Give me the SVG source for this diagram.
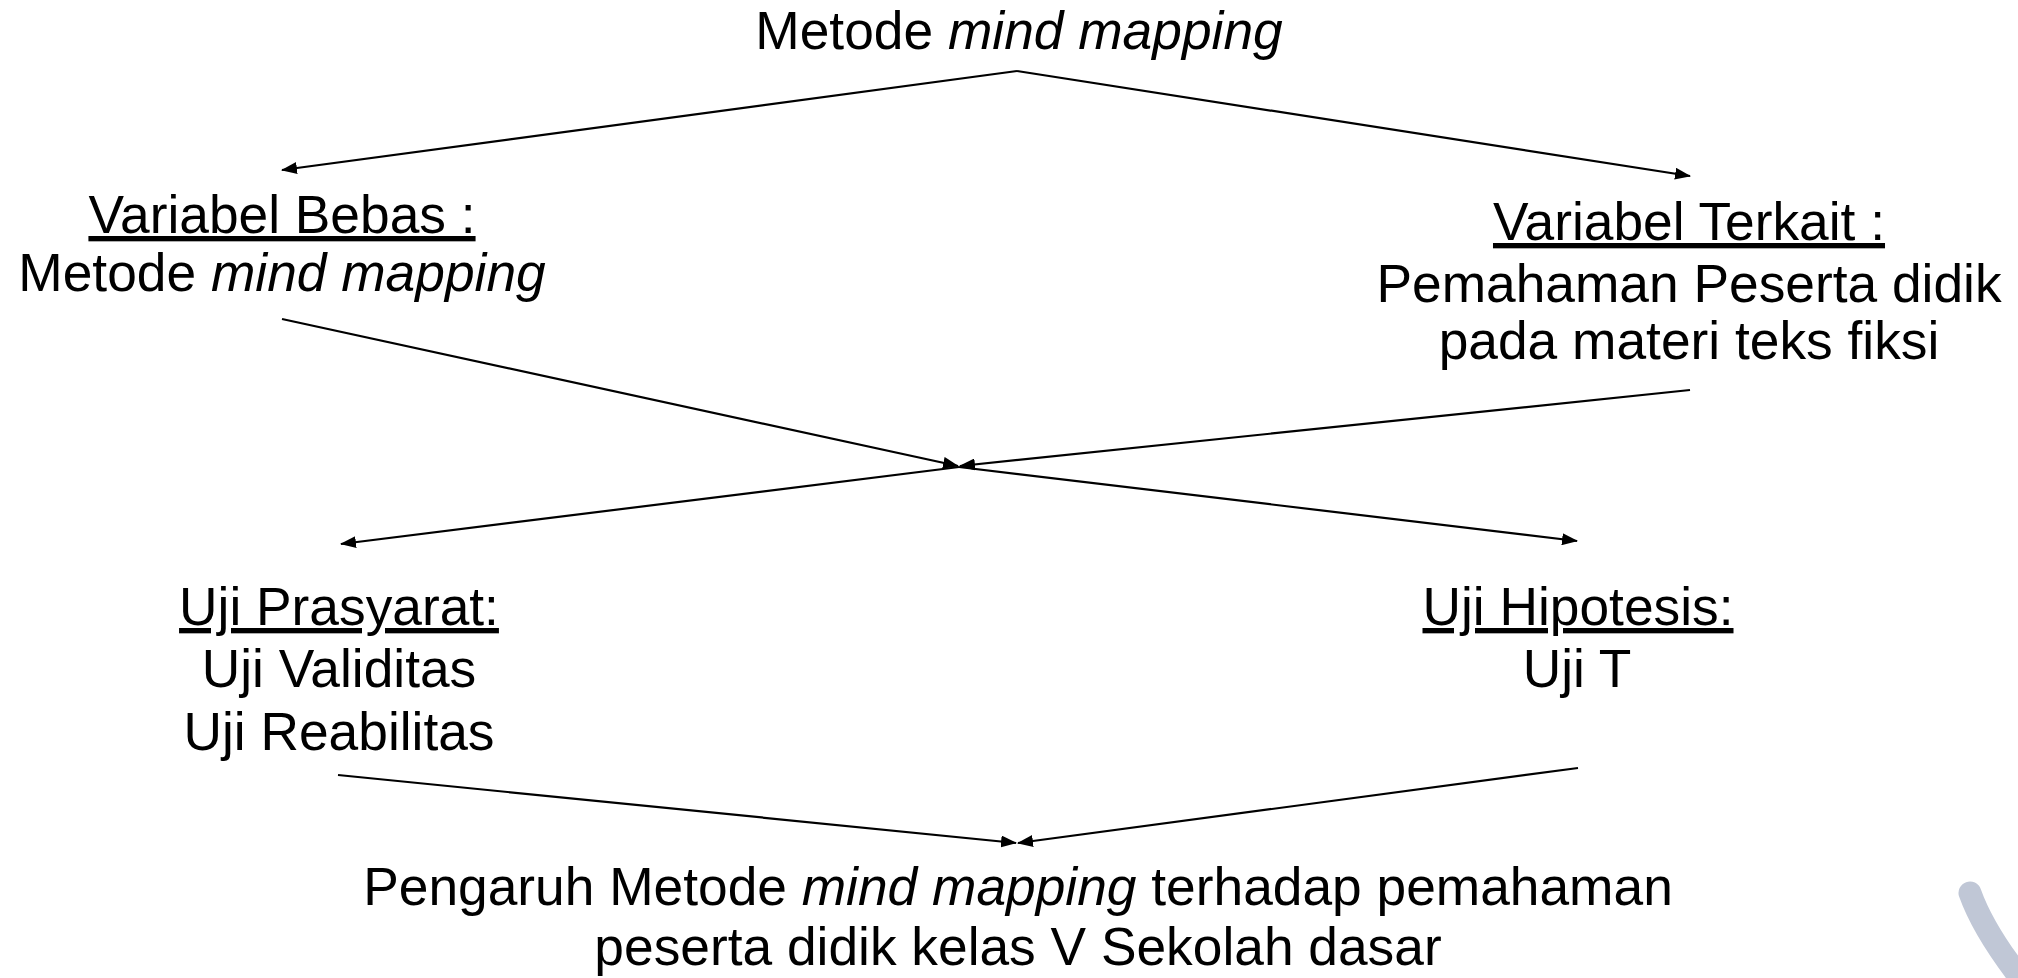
<svg xmlns="http://www.w3.org/2000/svg" width="2018" height="978" viewBox="0 0 2018 978">
<style>
  text { font-family: "Liberation Sans", Arial, sans-serif; font-size: 53.3px; fill: #000; text-anchor: middle; }
  .it { font-style: italic; }
  .ul { text-decoration: underline; }
  .conn line { stroke: #000; stroke-width: 2.2; fill: none; }
</style>
<defs>
  <marker id="arr" markerUnits="userSpaceOnUse" markerWidth="16" markerHeight="12" viewBox="0 0 16 12" refX="15" refY="6" orient="auto">
    <path d="M0,0 L16,6 L0,12 Z" fill="#000"/>
  </marker>
</defs>
<rect width="2018" height="978" fill="#fff"/>

<g id="node-top">
  <text x="1019" y="49">Metode <tspan class="it">mind mapping</tspan></text>
</g>

<g id="node-bebas">
  <text x="282" y="233" class="ul">Variabel Bebas :</text>
  <text x="282" y="291">Metode <tspan class="it">mind mapping</tspan></text>
</g>

<g id="node-terkait">
  <text x="1689" y="240" class="ul">Variabel Terkait :</text>
  <text x="1689" y="302">Pemahaman Peserta didik</text>
  <text x="1689" y="359">pada materi teks fiksi</text>
</g>

<g id="node-prasyarat">
  <text x="339" y="625" class="ul">Uji Prasyarat:</text>
  <text x="339" y="687">Uji Validitas</text>
  <text x="339" y="750">Uji Reabilitas</text>
</g>

<g id="node-hipotesis">
  <text x="1578" y="625" class="ul">Uji Hipotesis:</text>
  <text x="1577" y="687">Uji T</text>
</g>

<g id="node-result">
  <text x="1018" y="905">Pengaruh Metode <tspan class="it">mind mapping</tspan> terhadap pemahaman</text>
  <text x="1018" y="965">peserta didik kelas V Sekolah dasar</text>
</g>

<g id="connectors" class="conn">
  <line x1="1017" y1="71" x2="282" y2="170" marker-end="url(#arr)"/>
  <line x1="1017" y1="71" x2="1690" y2="176" marker-end="url(#arr)"/>
  <line x1="282" y1="319" x2="958" y2="466" marker-end="url(#arr)"/>
  <line x1="1690" y1="390" x2="960" y2="466" marker-end="url(#arr)"/>
  <line x1="959" y1="467" x2="341" y2="544" marker-end="url(#arr)"/>
  <line x1="959" y1="467" x2="1577" y2="541" marker-end="url(#arr)"/>
  <line x1="338" y1="775" x2="1016" y2="843" marker-end="url(#arr)"/>
  <line x1="1578" y1="768" x2="1018" y2="843" marker-end="url(#arr)"/>
</g>

<path d="M1970,893 Q1985,935 2030,990" stroke="#c0c7d6" stroke-width="23" stroke-linecap="round" fill="none"/>
</svg>
